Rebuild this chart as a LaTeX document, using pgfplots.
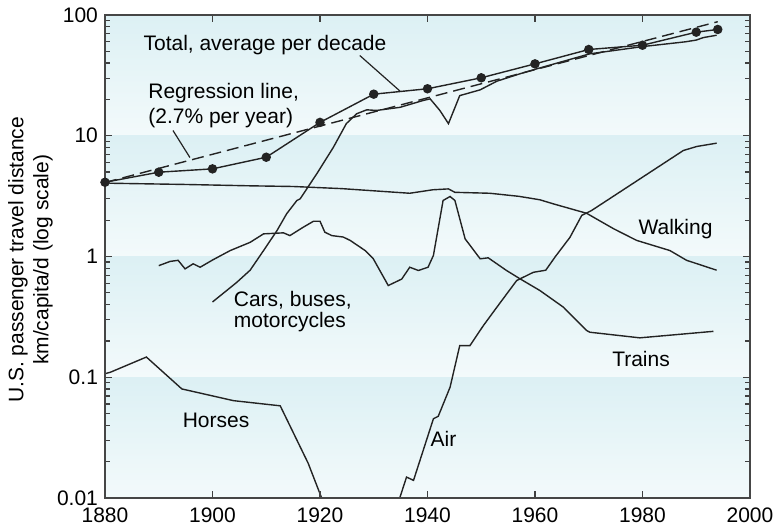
\documentclass[border=0pt]{standalone}
\usepackage{fontspec}
\setmainfont{Liberation Sans}
\usepackage{pgfplots}
\pgfplotsset{compat=1.18}
\definecolor{bandtop}{RGB}{220,240,244}
\definecolor{bandbot}{RGB}{243,250,251}
\definecolor{ln}{RGB}{35,35,35}
\begin{document}
\begin{tikzpicture}
\begin{axis}[
  scale only axis, width=322.5pt, height=241.5pt,
  ymode=log, xmin=1880, xmax=2000, ymin=0.01, ymax=100,
  xtick={1880,1900,1920,1940,1960,1980,2000},
  xticklabels={1880,1900,1920,1940,1960,1980,2000},
  ytick={0.01,0.1,1,10,100},
  yticklabels={0.01,0.1,1,10,100},
  minor ytick={0.02,0.03,0.04,0.05,0.06,0.07,0.08,0.09,0.2,0.3,0.4,0.5,0.6,0.7,0.8,0.9,2,3,4,5,6,7,8,9,20,30,40,50,60,70,80,90},
  tick align=inside, major tick length=3.5pt, minor tick length=2.5pt,
  tick style={gray!50!black, line width=0.6pt},
  axis line style={gray!55!black, line width=0.9pt},
  tick label style={font=\fontsize{10.5}{12}\selectfont},
  xticklabel style={yshift=-1.5pt},
  ylabel={U.S. passenger travel distance\\km/capita/d (log scale)},
  ylabel style={at={(axis description cs:-0.1155,0.493)}, anchor=center, align=center, font=\fontsize{10.5}{12.5}\selectfont},
  axis on top,
  clip=true,
]
% background bands
\path[top color=bandtop, bottom color=bandbot] (axis cs:1880,10) rectangle (axis cs:2000,100);
\path[top color=bandtop, bottom color=bandbot] (axis cs:1880,1) rectangle (axis cs:2000,10);
\path[top color=bandtop, bottom color=bandbot] (axis cs:1880,0.1) rectangle (axis cs:2000,1);
\path[top color=bandtop, bottom color=bandbot] (axis cs:1880,0.01) rectangle (axis cs:2000,0.1);

% Regression line
\addplot[ln, line width=0.7pt, no marks, dash pattern=on 6pt off 3pt] coordinates {(1880,4.1) (1994,88)};
% Total, average per decade
\addplot[ln, line width=0.7pt, mark=*, mark size=2pt, mark options={solid, fill=ln}] coordinates {
(1880,4.12) (1890,4.99) (1900,5.32) (1910,6.64) (1920,12.9) (1930,22.1)
(1940,24.5) (1950,30.2) (1960,39.4) (1970,51.8) (1980,56.2) (1990,72.1) (1994,75.9)};
% Cars, buses, motorcycles
\addplot[ln, line width=0.7pt, no marks] coordinates {
(1900,0.42) (1904.5,0.61) (1907,0.77) (1909.5,1.12) (1912,1.64) (1913.8,2.26)
(1915.7,2.91) (1916.3,3.0) (1919.4,4.84) (1922.5,8.04) (1924.9,12.6) (1926.8,15.2)
(1928.7,16.4) (1930.5,16.2) (1934.9,17.2) (1939.2,19.6) (1940.5,20.2) (1942.3,16.2)
(1943.9,12.6) (1946,21.5) (1949.8,24.0) (1952.9,28.3) (1957.2,32.6) (1960.3,35.8)
(1970.2,47.7) (1980.1,54.8) (1988,60) (1990,62) (1991.3,65) (1993.8,68)};
% Walking
\addplot[ln, line width=0.7pt, no marks] coordinates {
(1880,4.05) (1895,3.95) (1907,3.85) (1915,3.8) (1924,3.65) (1930,3.5) (1936.7,3.34)
(1941,3.57) (1943.9,3.63) (1945.1,3.4) (1951.6,3.34) (1957,3.15) (1960.9,2.95)
(1963.4,2.73) (1969.6,2.28) (1974.6,1.70) (1978.9,1.36) (1985.1,1.12) (1988.2,0.93) (1993.8,0.77)};
% Trains
\addplot[ln, line width=0.7pt, no marks] coordinates {
(1890,0.84) (1892.1,0.91) (1893.6,0.93) (1894.9,0.79) (1896.4,0.87) (1897.7,0.815)
(1900.1,0.94) (1903.3,1.12) (1907,1.31) (1909.5,1.54) (1913.2,1.57) (1914.4,1.49)
(1916.9,1.75) (1918.8,1.96) (1920,1.96) (1920.9,1.59) (1922.2,1.49) (1924.3,1.45)
(1925.6,1.36) (1928.4,1.12) (1929.9,0.96) (1932.7,0.575) (1935.2,0.65) (1936.7,0.815)
(1938.3,0.766) (1940.1,0.815) (1941.1,1.02) (1942.9,2.91) (1944.2,3.14) (1945.1,2.91)
(1947,1.40) (1949.8,0.957) (1951.3,0.975) (1954.7,0.766) (1957.2,0.654) (1960.9,0.523)
(1965.3,0.38) (1969.6,0.244) (1970.2,0.236) (1979.5,0.212) (1993.2,0.24)};
% Air
\addplot[ln, line width=0.7pt, no marks] coordinates {
(1934.5,0.009) (1936.1,0.0149) (1937.4,0.014) (1941.1,0.0453) (1942,0.0475)
(1944.2,0.0827) (1946,0.183) (1947.9,0.183) (1950.4,0.268) (1952.9,0.38)
(1956.6,0.633) (1959.7,0.74) (1962,0.77) (1963.8,1.0) (1966.5,1.44) (1968.7,2.19)
(1970.5,2.4) (1987.6,7.55) (1990.1,8.15) (1993.8,8.68)};
% Horses
\addplot[ln, line width=0.7pt, no marks] coordinates {
(1880,0.107) (1881,0.110) (1887.7,0.147) (1894.3,0.080) (1903.9,0.064)
(1912.6,0.058) (1917.8,0.0194) (1920.5,0.0095)};

% leader lines
\draw[ln, line width=0.6pt] (axis cs:1927.4,46.2) -- (axis cs:1934.9,23.4);
\draw[ln, line width=0.6pt] (axis cs:1892.65,11.05) -- (axis cs:1895.8,6.6);

% labels
\begin{scope}[every node/.style={font=\fontsize{10.5}{12.5}\selectfont, anchor=west, inner sep=0pt}]
\node at (axis cs:1887.1,55.9) {Total, average per decade};
\node at (axis cs:1888.0,22.4) {Regression line,};
\node at (axis cs:1888.0,13.9) {(2.7\% per year)};
\node at (axis cs:1979.2,1.70) {Walking};
\node at (axis cs:1903.9,0.432) {Cars, buses,};
\node at (axis cs:1903.9,0.286) {motorcycles};
\node at (axis cs:1974.3,0.142) {Trains};
\node at (axis cs:1894.4,0.0438) {Horses};
\node at (axis cs:1940.5,0.0309) {Air};
\end{scope}
\end{axis}
\pgfresetboundingbox
\path (-52.5pt,-15.5pt) rectangle (334pt,249pt);
\end{tikzpicture}
\end{document}
